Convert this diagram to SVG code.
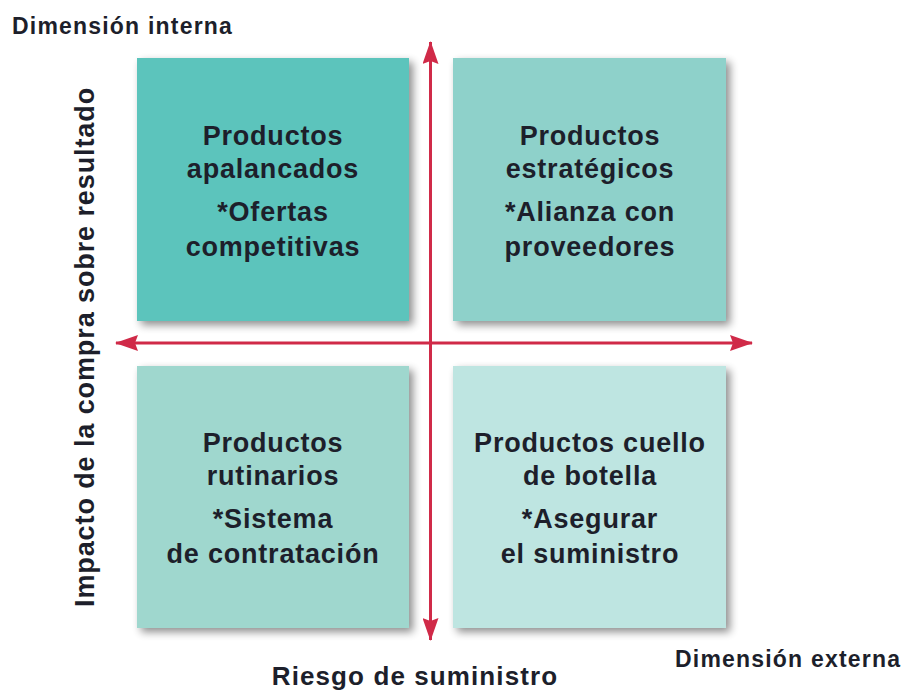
<svg xmlns="http://www.w3.org/2000/svg" width="910" height="690" viewBox="0 0 910 690">
<defs>
<filter id="sh" x="-10%" y="-10%" width="125%" height="125%">
<feGaussianBlur in="SourceAlpha" stdDeviation="4"/>
<feOffset dx="4" dy="4" result="b"/>
<feComponentTransfer><feFuncA type="linear" slope="0.45"/></feComponentTransfer>
<feMerge><feMergeNode/><feMergeNode in="SourceGraphic"/></feMerge>
</filter>
<marker id="ah" viewBox="0 0 24 16" refX="22" refY="8" markerWidth="24" markerHeight="16" markerUnits="userSpaceOnUse" orient="auto-start-reverse">
<path d="M0,0 L23,8 L0,16 L3,8 z" fill="#d02a48"/>
</marker>
</defs>
<style>
.box{filter:url(#sh)}
.t{font-family:"Liberation Sans",Arial,sans-serif;font-weight:bold;font-size:27px;fill:#1d1f2b;text-anchor:middle;letter-spacing:0.8px}
.ax{font-family:"Liberation Sans",Arial,sans-serif;font-weight:bold;fill:#1d1f2b}
.ln{stroke:#d02a48;stroke-width:3;fill:none}
</style>
<rect width="910" height="690" fill="#ffffff"/>
<g id="node-apalancados">
<rect class="box" x="137" y="58" width="272" height="263" fill="#5bc4bc"/>
<text class="t" x="273" y="145">Productos</text>
<text class="t" x="273" y="178">apalancados</text>
<text class="t" x="273" y="221">*Ofertas</text>
<text class="t" x="273" y="256">competitivas</text>
</g>
<g id="node-estrategicos">
<rect class="box" x="453" y="58" width="273" height="263" fill="#8ed1ca"/>
<text class="t" x="590" y="145">Productos</text>
<text class="t" x="590" y="178">estratégicos</text>
<text class="t" x="590" y="221">*Alianza con</text>
<text class="t" x="590" y="256">proveedores</text>
</g>
<g id="node-rutinarios">
<rect class="box" x="137" y="366" width="272" height="262" fill="#9fd7ce"/>
<text class="t" x="273" y="452">Productos</text>
<text class="t" x="273" y="485">rutinarios</text>
<text class="t" x="273" y="528">*Sistema</text>
<text class="t" x="273" y="563">de contratación</text>
</g>
<g id="node-cuello">
<rect class="box" x="453" y="366" width="273" height="262" fill="#bee5e1"/>
<text class="t" x="590" y="452">Productos cuello</text>
<text class="t" x="590" y="485">de botella</text>
<text class="t" x="590" y="528">*Asegurar</text>
<text class="t" x="590" y="563">el suministro</text>
</g>
<g id="connectors">
<line class="ln" x1="430.5" y1="640" x2="430.5" y2="42" marker-end="url(#ah)" marker-start="url(#ah)"/>
<line class="ln" x1="116" y1="343" x2="752" y2="343" marker-end="url(#ah)" marker-start="url(#ah)"/>
</g>
<g id="labels">
<text class="ax" x="12" y="34" font-size="23" letter-spacing="1.2">Dimensión interna</text>
<text class="ax" x="675" y="667" font-size="23" letter-spacing="1.2">Dimensión externa</text>
<text class="ax" x="415" y="685" font-size="26" text-anchor="middle" letter-spacing="1.1">Riesgo de suministro</text>
<text class="ax" transform="translate(94,347) rotate(-90)" x="0" y="0" font-size="27" text-anchor="middle" letter-spacing="0.9">Impacto de la compra sobre resultado</text>
</g>
</svg>
